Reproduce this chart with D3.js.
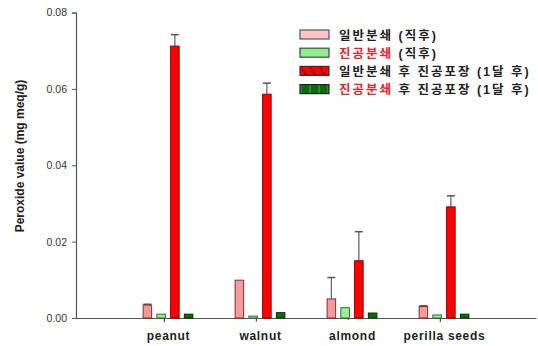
<!DOCTYPE html>
<html>
<head>
<meta charset="utf-8">
<script src="https://cdn.jsdelivr.net/npm/d3@7"></script>
<style>
  html, body { margin: 0; padding: 0; background: #fff; }
  svg { display: block; }
  text { font-family: "Liberation Sans", Arial, "Noto Sans CJK KR", sans-serif; }
</style>
</head>
<body>
<svg id="chart" width="538" height="346"></svg>
<script>
// Peroxide value by sample and grinding / packaging condition
const categories = ["peanut", "walnut", "almond", "perilla seeds"];
const seriesNames = ["일반분쇄 (직후)", "진공분쇄 (직후)", "일반분쇄 후 진공포장 (1달 후)", "진공분쇄 후 진공포장 (1달 후)"];

const normalNow      = [0.0034, 0.0099, 0.0050, 0.0030];
const normalNowErr   = [0.0002, 0.0000, 0.0056, 0.0002];
const vacuumNow      = [0.0010, 0.0005, 0.0027, 0.0008];
const vacuumNowErr   = [-0.0020, -0.0014, -0.0032, -0.0018];
const normalPack     = [0.0712, 0.0586, 0.0150, 0.0291];
const normalPackErr  = [0.0030, 0.0029, 0.0076, 0.0029];
const vacuumPack     = [0.0010, 0.0014, 0.0013, 0.0010];
const vacuumPackErr  = [0.0000, 0.0000, 0.0000, 0.0000];

const yTicks = [0, 0.02, 0.04, 0.06, 0.08];

const seriesValues = [normalNow, vacuumNow, normalPack, vacuumPack];
const seriesErrors = [normalNowErr, vacuumNowErr, normalPackErr, vacuumPackErr];
const fills   = ["#f59a9a", "#9af09a", "#ff0000", "#0d6b0d"];
const strokes = ["#7a3030", "#2f6b2f", "#8a0000", "#053005"];

const svg = d3.select("#chart");

const y = d3.scaleLinear().domain([0, 0.08]).range([318, 12.5]);
const x = d3.scaleLinear().domain([0, categories.length + 1]).range([76, 536]);
const inner = d3.scaleBand().domain(d3.range(seriesNames.length))
  .range([-27.5, 27.5]).paddingInner(0.38).paddingOuter(0.19);

// patterns used by the packaged-sample swatches
const defs = svg.append("defs");
const hatch = defs.append("pattern").attr("id", "hatchRed")
  .attr("patternUnits", "userSpaceOnUse").attr("width", 8).attr("height", 8)
  .attr("patternTransform", "rotate(-30)");
hatch.append("rect").attr("width", 8).attr("height", 8).attr("fill", "#ff0000");
hatch.append("line").attr("x1", 0).attr("y1", 0).attr("x2", 0).attr("y2", 8)
  .attr("stroke", "#a00000").attr("stroke-width", 3);
const grid = defs.append("pattern").attr("id", "gridGreen")
  .attr("patternUnits", "userSpaceOnUse").attr("width", 9).attr("height", 10);
grid.append("rect").attr("width", 9).attr("height", 10).attr("fill", "#0d6b0d");
grid.append("line").attr("x1", 1).attr("y1", 0).attr("x2", 1).attr("y2", 10)
  .attr("stroke", "#63a063").attr("stroke-width", 1);

// y axis
const yAxis = d3.axisLeft(y).tickValues(yTicks).tickFormat(d3.format(".2f"))
  .tickSize(4).tickPadding(5);
const gy = svg.append("g").attr("transform", `translate(${x(0)},0)`).call(yAxis);
gy.select(".domain").attr("stroke", "#555").attr("stroke-width", 1.2);
gy.selectAll(".tick line").attr("stroke", "#555");
gy.selectAll(".tick text").attr("font-size", 10.5).attr("fill", "#333")
  .attr("font-family", "Liberation Sans, Arial, sans-serif");

// x axis baseline and category labels
const xAxis = d3.axisBottom(x).tickValues(categories.map((_, i) => i + 1))
  .tickFormat(i => categories[i - 1]).tickSize(0).tickPadding(13);
const gx = svg.append("g").attr("transform", `translate(0,${y(0)})`).call(xAxis);
gx.select(".domain").attr("stroke", "#555").attr("stroke-width", 1.2);
gx.selectAll(".tick text").attr("font-size", 12).attr("font-weight", "bold")
  .attr("letter-spacing", 0.7)
  .attr("fill", "#222").attr("font-family", "Liberation Sans, Arial, sans-serif");

// bars and error bars
seriesValues.forEach((vals, s) => {
  const g = svg.append("g");
  vals.forEach((v, i) => {
    const bx = x(i + 1) + inner(s);
    const bw = inner.bandwidth();
    const err = seriesErrors[s][i];
    if (err !== 0) {
      const cx = err < 0 ? bx + bw - 1 : bx + bw / 2;
      g.append("line").attr("x1", cx).attr("x2", cx)
        .attr("y1", y(v)).attr("y2", y(v + err))
        .attr("stroke", err < 0 ? "#5a3a8a" : "#6a6a6a").attr("stroke-width", 1.3);
      if (err > 0) {
        g.append("line").attr("x1", cx - 4).attr("x2", cx + 4)
          .attr("y1", y(v + err)).attr("y2", y(v + err))
          .attr("stroke", "#555").attr("stroke-width", 1.5);
      }
    }
    g.append("rect").attr("x", bx).attr("y", y(v))
      .attr("width", bw).attr("height", y(0) - y(v))
      .attr("fill", fills[s]).attr("stroke", strokes[s]).attr("stroke-width", 1);
  });
});

// y axis title
svg.append("text")
  .attr("transform", "translate(24,156) rotate(-90)")
  .attr("text-anchor", "middle").attr("font-size", 12).attr("font-weight", "bold")
  .attr("fill", "#222").text("Peroxide value (mg meq/g)");

// legend
const legendFills = ["#ffc4c4", "#8cf08c", "url(#hatchRed)", "url(#gridGreen)"];
const legendStrokes = ["#555", "#444", "#333", "#222"];
const legend = svg.append("g").attr("transform", "translate(300,30)");
seriesNames.forEach((name, i) => {
  const row = legend.append("g").attr("transform", `translate(0,${i * 18.2})`);
  row.append("rect").attr("x", 0).attr("y", 0).attr("width", 29).attr("height", 9)
    .attr("fill", legendFills[i]).attr("stroke", legendStrokes[i]).attr("stroke-width", 1.2);
  const t = row.append("text").attr("x", 39).attr("y", 9.5).attr("font-size", 12.5)
    .attr("font-weight", "bold").attr("fill", "#222").attr("letter-spacing", 2)
    .attr("font-family", "Noto Sans CJK KR, sans-serif");
  const head = name.slice(0, 4);
  const rest = name.slice(4);
  t.append("tspan").attr("fill", i % 2 === 1 ? "#e8202a" : "#222").text(head);
  t.append("tspan").text(rest);
});
</script>
</body>
</html>
